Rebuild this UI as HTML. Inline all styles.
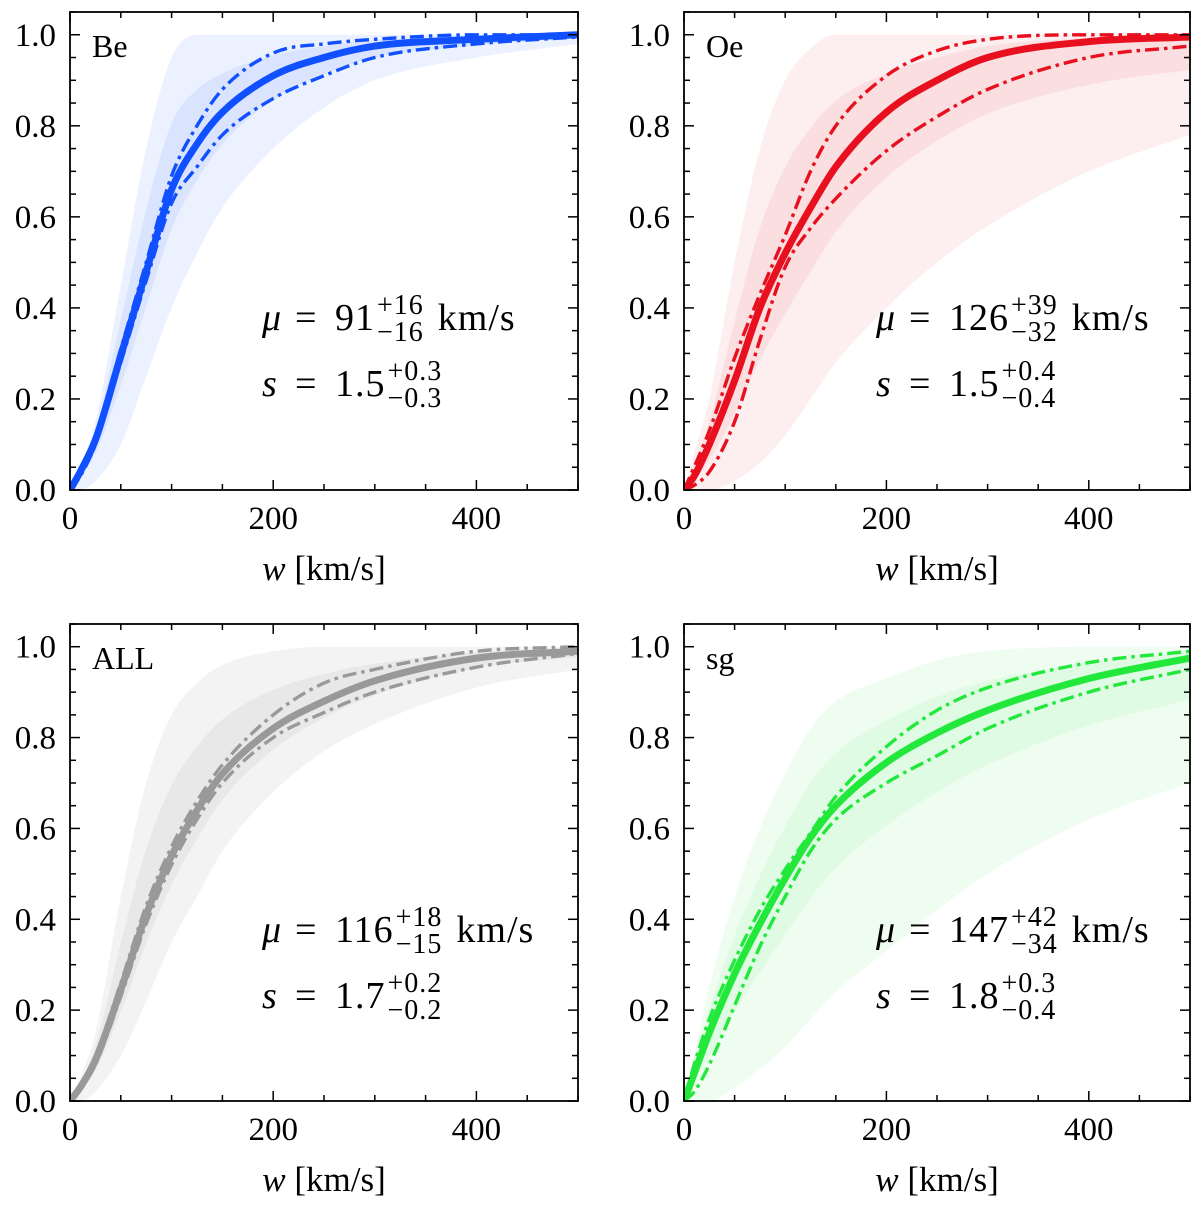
<!DOCTYPE html>
<html><head><meta charset="utf-8"><style>
html,body{margin:0;padding:0;background:#fff;}
svg{display:block;font-family:"Liberation Serif","DejaVu Serif",serif;}
</style></head><body>
<svg id="fig" width="1200" height="1205" viewBox="0 0 1200 1205" xmlns="http://www.w3.org/2000/svg"></svg>
<script>
const wGrid=[0,10,25,50,75,100,125,150,200,250,300,400,500];
const beMed=[0,0.04,0.11,0.295,0.48,0.66,0.76,0.83,0.91,0.95,0.975,0.99,1.0];
const beUp=[0,0.04,0.12,0.31,0.50,0.69,0.80,0.88,0.96,0.98,0.99,1,1];
const beLo=[0,0.03,0.10,0.28,0.46,0.63,0.71,0.78,0.86,0.91,0.95,0.98,0.995];
const beBandHi=[0,0.05,0.15,0.45,0.75,0.95,1,1,1,1,1,1,1];
const beBandLo=[0,0,0.02,0.1,0.25,0.4,0.52,0.62,0.75,0.84,0.9,0.95,0.98];
const oeMed=[0,0.03,0.10,0.24,0.40,0.52,0.62,0.71,0.83,0.90,0.95,0.985,0.995];
const oeUp=[0,0.05,0.13,0.29,0.43,0.56,0.70,0.80,0.91,0.965,0.99,1,1];
const oeLo=[0,0.01,0.04,0.15,0.33,0.49,0.575,0.64,0.745,0.82,0.88,0.95,0.975];
const oeBandHi=[0,0.08,0.2,0.5,0.75,0.9,0.97,1,1,1,1,1,1];
const oeBandLo=[0,0,0,0.02,0.06,0.12,0.2,0.28,0.4,0.5,0.58,0.7,0.78];
const allMed=[0,0.03,0.09,0.245,0.41,0.54,0.64,0.72,0.82,0.88,0.925,0.975,0.99];
const allUp=[0,0.035,0.10,0.26,0.43,0.56,0.66,0.74,0.85,0.92,0.95,0.99,1.0];
const allLo=[0,0.025,0.08,0.23,0.39,0.52,0.62,0.70,0.80,0.855,0.90,0.955,0.985];
const allBandHi=[0,0.05,0.15,0.45,0.7,0.85,0.92,0.96,0.99,1,1,1,1];
const allBandLo=[0,0,0.02,0.1,0.22,0.35,0.45,0.55,0.68,0.77,0.83,0.91,0.95];
const sgMed=[0,0.06,0.15,0.28,0.39,0.49,0.58,0.65,0.745,0.81,0.86,0.93,0.975];
const sgUp=[0,0.08,0.18,0.31,0.42,0.51,0.59,0.67,0.78,0.86,0.91,0.965,0.99];
const sgLo=[0,0.02,0.08,0.21,0.34,0.45,0.55,0.62,0.70,0.76,0.82,0.90,0.95];
const sgBandHi=[0,0.1,0.25,0.45,0.6,0.72,0.82,0.88,0.93,0.97,0.99,1,1];
const sgBandLo=[0,0,0,0.03,0.07,0.12,0.18,0.24,0.33,0.42,0.5,0.62,0.7];
const xTicks=[0,200,400];
const yTicks=[0,0.2,0.4,0.6,0.8,1.0];
const panelNames=["Be","Oe","ALL","sg"];
const muVals=["91","126","116","147"], muUp=["+16","+39","+18","+42"], muDn=["−16","−32","−15","−34"];
const sVals=["1.5","1.5","1.7","1.8"], sUp=["+0.3","+0.4","+0.2","+0.3"], sDn=["−0.3","−0.4","−0.2","−0.4"];

const NS="http://www.w3.org/2000/svg";
const svg=document.getElementById('fig');
function mk(tag,attrs,parent){const e=document.createElementNS(NS,tag);for(const k in attrs)e.setAttribute(k,attrs[k]);(parent||svg).appendChild(e);return e;}

const panels=[
 {x0:70,x1:578,yTop:12,yBot:490,color:"#1150ff",op:0.08,med:beMed,up:beUp,lo:beLo,bh:beBandHi,bl:beBandLo},
 {x0:684,x1:1190,yTop:12,yBot:490,color:"#e8101e",op:0.07,med:oeMed,up:oeUp,lo:oeLo,bh:oeBandHi,bl:oeBandLo},
 {x0:70,x1:578,yTop:624,yBot:1101,color:"#999999",op:0.12,med:allMed,up:allUp,lo:allLo,bh:allBandHi,bl:allBandLo},
 {x0:684,x1:1190,yTop:624,yBot:1101,color:"#22e83c",op:0.07,med:sgMed,up:sgUp,lo:sgLo,bh:sgBandHi,bl:sgBandLo}
];
const YMAX=1.05;

function monoPath(pts,move){
  const n=pts.length,dx=[],m=[],t=[];
  for(let i=0;i<n-1;i++){dx[i]=pts[i+1][0]-pts[i][0];m[i]=(pts[i+1][1]-pts[i][1])/dx[i];}
  t[0]=m[0];t[n-1]=m[n-2];
  for(let i=1;i<n-1;i++){t[i]=(m[i-1]*m[i]<=0)?0:(m[i-1]+m[i])/2;}
  for(let i=0;i<n-1;i++){
    if(m[i]===0){t[i]=0;t[i+1]=0;continue;}
    const a=t[i]/m[i],b=t[i+1]/m[i],s=a*a+b*b;
    if(s>9){const k=3/Math.sqrt(s);t[i]=k*a*m[i];t[i+1]=k*b*m[i];}
  }
  let d=(move?"M":"L")+pts[0][0].toFixed(1)+","+pts[0][1].toFixed(1);
  for(let i=0;i<n-1;i++){
    const h=dx[i]/3;
    d+=" C"+(pts[i][0]+h).toFixed(1)+","+(pts[i][1]+t[i]*h).toFixed(1)+" "+(pts[i+1][0]-h).toFixed(1)+","+(pts[i+1][1]-t[i+1]*h).toFixed(1)+" "+pts[i+1][0].toFixed(1)+","+pts[i+1][1].toFixed(1);
  }
  return d;
}
function revPath(pts){
  const n=pts.length;
  const fw=monoPath(pts,true).split(" C").slice(1).map(s=>s.split(" ").map(q=>q.split(",").map(Number)));
  let d=" L"+pts[n-1][0].toFixed(1)+","+pts[n-1][1].toFixed(1);
  for(let i=fw.length-1;i>=0;i--){
    const seg=fw[i];const start=(i===0)?pts[0]:fw[i-1][2];
    d+=" C"+seg[1][0]+","+seg[1][1]+" "+seg[0][0]+","+seg[0][1]+" "+start[0]+","+start[1];
  }
  return d;
}

panels.forEach((p,i)=>{
  const sx=w=>p.x0+(p.x1-p.x0)*w/500;
  const sy=v=>p.yBot-(p.yBot-p.yTop)*v/YMAX;
  const g=mk('g',{});
  
  
  const clipId='clip'+i;
  const cp=mk('clipPath',{id:clipId},g);
  mk('rect',{x:p.x0,y:p.yTop,width:p.x1-p.x0,height:p.yBot-p.yTop},cp);
  const plot=mk('g',{'clip-path':'url(#'+clipId+')'},g);
  const hiPts=wGrid.map((w,k)=>[sx(w),sy(p.bh[k])]);
  const loPts=wGrid.map((w,k)=>[sx(w),sy(p.bl[k])]);
  const band=mk('path',{d:monoPath(hiPts,true)+revPath(loPts)+" Z",fill:p.color,'fill-opacity':p.op},plot);
  
  
  const ihPts=wGrid.map((w,k)=>[sx(w),sy((p.bh[k]+p.med[k])/2)]);
  const ilPts=wGrid.map((w,k)=>[sx(w),sy((p.bl[k]+p.med[k]*2)/3)]);
  const inner=mk('path',{d:monoPath(ihPts,true)+revPath(ilPts)+" Z",fill:p.color,'fill-opacity':p.op},plot);
  
  
  const lu=mk('path',{d:monoPath(wGrid.map((w,k)=>[sx(w),sy(p.up[k])]),true),fill:'none',stroke:p.color,'stroke-width':3.4,'stroke-dasharray':'14,5,3.5,5'},plot);
  
  
  const ll=mk('path',{d:monoPath(wGrid.map((w,k)=>[sx(w),sy(p.lo[k])]),true),fill:'none',stroke:p.color,'stroke-width':3.4,'stroke-dasharray':'14,5,3.5,5'},plot);
  
  
  const lm=mk('path',{d:monoPath(wGrid.map((w,k)=>[sx(w),sy(p.med[k])]),true),fill:'none',stroke:p.color,'stroke-width':7},plot);
  
  
  const fr=mk('rect',{x:p.x0,y:p.yTop,width:p.x1-p.x0,height:p.yBot-p.yTop,fill:'none',stroke:'#000','stroke-width':1.8},g);
  
  
  for(let w=0;w<=500;w+=50){
    const L=(w%200===0)?10:6;
    mk('line',{x1:sx(w),x2:sx(w),y1:p.yBot,y2:p.yBot-L,stroke:'#000','stroke-width':1.5},g);
    mk('line',{x1:sx(w),x2:sx(w),y1:p.yTop,y2:p.yTop+L,stroke:'#000','stroke-width':1.5},g);
  }
  for(let k=0;k<=21;k++){
    const v=k*0.05;const L=(k%4===0)?10:6;
    mk('line',{x1:p.x0,x2:p.x0+L,y1:sy(v),y2:sy(v),stroke:'#000','stroke-width':1.5},g);
    mk('line',{x1:p.x1,x2:p.x1-L,y1:sy(v),y2:sy(v),stroke:'#000','stroke-width':1.5},g);
  }
  xTicks.forEach(t=>{
    const tx=mk('text',{x:sx(t),y:p.yBot+39,'font-size':33,'text-anchor':'middle'},g);
    tx.textContent=String(t);
    
    
  });
  yTicks.forEach(t=>{
    const ty=mk('text',{x:p.x0-14,y:sy(t)+11,'font-size':33,'text-anchor':'end'},g);
    ty.textContent=t.toFixed(1);
    
    
  });
  const xl=mk('text',{x:(p.x0+p.x1)/2,y:p.yBot+90,'font-size':35,'text-anchor':'middle'},g);
  xl.innerHTML='<tspan font-style="italic">w</tspan> [km/s]';
  
  
  const nm=mk('text',{x:p.x0+22,y:p.yTop+45,'font-size':32},g);
  nm.textContent=panelNames[i];
  
  
  function annot(prefixItalic,val,supT,subT,suffix,baseY,name){
    const ax=p.x0+192;
    const sym=mk('text',{x:ax,y:baseY,'font-size':38,'font-style':'italic'},g);
    sym.textContent=prefixItalic;
    
    
    const eq=mk('text',{x:ax+33,y:baseY,'font-size':38},g);
    eq.textContent='=';
    const t=mk('text',{x:ax+73,y:baseY,'font-size':38,'letter-spacing':1},g);
    t.textContent=val;
    
    
    const wBase=73+t.getComputedTextLength();
    const su=mk('text',{x:ax+wBase+2,y:baseY-16,'font-size':28,'letter-spacing':1},g);
    su.textContent=supT;
    
    
    const sb=mk('text',{x:ax+wBase+2,y:baseY+11,'font-size':28,'letter-spacing':1},g);
    sb.textContent=subT;
    
    
    if(suffix){
      const ww=Math.max(su.getComputedTextLength(),sb.getComputedTextLength());
      const k=mk('text',{x:ax+wBase+ww+16,y:baseY,'font-size':38,'letter-spacing':1},g);
      k.textContent=suffix;
    }
  }
  annot('μ',muVals[i],muUp[i],muDn[i],'km/s',p.yTop+318,'mu-annotation');
  annot('s',sVals[i],sUp[i],sDn[i],'',p.yTop+384,'s-annotation');
});
</script>
</body></html>
